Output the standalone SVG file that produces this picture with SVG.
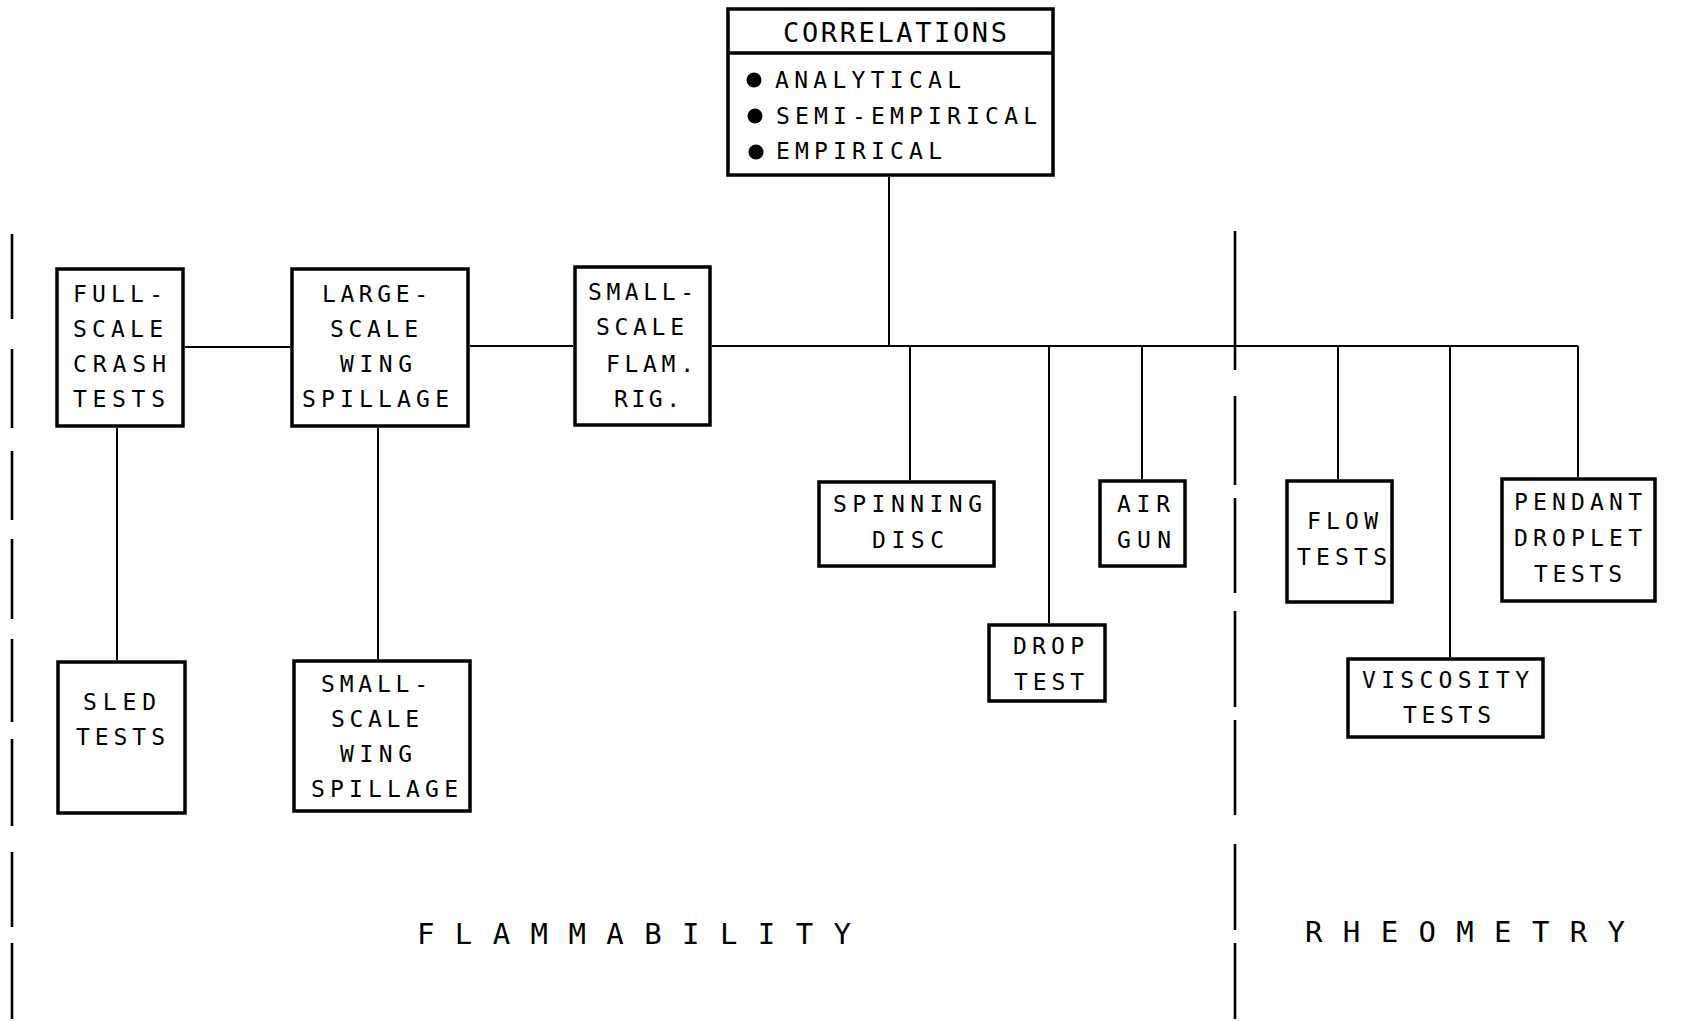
<svg xmlns="http://www.w3.org/2000/svg" width="1699" height="1021" viewBox="0 0 1699 1021">
<style>
.box{fill:#fff;stroke:#000;stroke-width:3.5}
.ln{stroke:#000;stroke-width:2;fill:none}
.dv{stroke:#000;stroke-width:2.6;fill:none}
text{font-family:"DejaVu Sans Mono","Liberation Mono",monospace;fill:#000;font-size:23px}
.c{text-anchor:middle}
.hd{font-size:27px}
.big{font-size:29px}
</style>
<rect width="1699" height="1021" fill="#fff"/>
<g id="dividers">
<path class="dv" d="M12 234V319M12 349V428M12 451V520M12 539V619M12 639V722M12 739V826M12 852V927M12 943V1019"/>
<path class="dv" d="M1235 231V370M1235 396V485M1235 498V593M1235 611V707M1235 720V815M1235 844V930M1235 943V1019"/>
</g>
<g id="connectors">
<path class="ln" d="M185 347H290M470 346H573M712 346H1578"/>
<path class="ln" d="M889 177V346"/>
<path class="ln" d="M910 346V480M1049 346V623M1142 346V479M1338 346V479M1450 346V657M1578 346V477"/>
<path class="ln" d="M117 428V660M378 428V659"/>
</g>
<g id="correlations">
<rect class="box" x="728" y="9" width="325" height="166"/>
<path class="box" d="M728 53H1053"/>
<text class="hd" x="783" y="42" textLength="224" lengthAdjust="spacing">CORRELATIONS</text>
<circle cx="754" cy="80" r="7.5"/>
<circle cx="755" cy="116" r="7.5"/>
<circle cx="756" cy="152" r="7.5"/>
<text x="775" y="88" textLength="186" lengthAdjust="spacing">ANALYTICAL</text>
<text x="776" y="124" textLength="261" lengthAdjust="spacing">SEMI-EMPIRICAL</text>
<text x="776" y="159" textLength="166" lengthAdjust="spacing">EMPIRICAL</text>
</g>
<g id="full-scale">
<rect class="box" x="57" y="269" width="126" height="157"/>
<text x="73" y="302" textLength="90" lengthAdjust="spacing">FULL-</text>
<text x="73" y="337" textLength="90" lengthAdjust="spacing">SCALE</text>
<text x="73" y="372" textLength="93" lengthAdjust="spacing">CRASH</text>
<text x="73" y="407" textLength="92" lengthAdjust="spacing">TESTS</text>
</g>
<g id="large-scale">
<rect class="box" x="292" y="269" width="176" height="157"/>
<text x="322" y="302" textLength="106" lengthAdjust="spacing">LARGE-</text>
<text x="330" y="337" textLength="88" lengthAdjust="spacing">SCALE</text>
<text x="340" y="372" textLength="72" lengthAdjust="spacing">WING</text>
<text x="302" y="407" textLength="147" lengthAdjust="spacing">SPILLAGE</text>
</g>
<g id="small-flam">
<rect class="box" x="575" y="267" width="135" height="158"/>
<text x="588" y="300" textLength="106" lengthAdjust="spacing">SMALL-</text>
<text x="596" y="335" textLength="88" lengthAdjust="spacing">SCALE</text>
<text x="606" y="372" textLength="88" lengthAdjust="spacing">FLAM.</text>
<text x="614" y="407" textLength="66" lengthAdjust="spacing">RIG.</text>
</g>
<g id="sled">
<rect class="box" x="58" y="662" width="127" height="151"/>
<text x="83" y="710" textLength="73" lengthAdjust="spacing">SLED</text>
<text x="76" y="745" textLength="89" lengthAdjust="spacing">TESTS</text>
</g>
<g id="small-wing">
<rect class="box" x="294" y="661" width="176" height="150"/>
<text x="321" y="692" textLength="107" lengthAdjust="spacing">SMALL-</text>
<text x="331" y="727" textLength="88" lengthAdjust="spacing">SCALE</text>
<text x="340" y="762" textLength="72" lengthAdjust="spacing">WING</text>
<text x="311" y="797" textLength="147" lengthAdjust="spacing">SPILLAGE</text>
</g>
<g id="spinning">
<rect class="box" x="819" y="482" width="175" height="84"/>
<text x="833" y="512" textLength="149" lengthAdjust="spacing">SPINNING</text>
<text x="872" y="548" textLength="72" lengthAdjust="spacing">DISC</text>
</g>
<g id="drop">
<rect class="box" x="989" y="625" width="116" height="76"/>
<text x="1013" y="654" textLength="71" lengthAdjust="spacing">DROP</text>
<text x="1014" y="690" textLength="70" lengthAdjust="spacing">TEST</text>
</g>
<g id="airgun">
<rect class="box" x="1100" y="481" width="85" height="85"/>
<text x="1117" y="512" textLength="53" lengthAdjust="spacing">AIR</text>
<text x="1117" y="548" textLength="54" lengthAdjust="spacing">GUN</text>
</g>
<g id="flow">
<rect class="box" x="1287" y="481" width="105" height="121"/>
<text x="1307" y="529" textLength="71" lengthAdjust="spacing">FLOW</text>
<text x="1297" y="565" textLength="90" lengthAdjust="spacing">TESTS</text>
</g>
<g id="viscosity">
<rect class="box" x="1348" y="659" width="195" height="78"/>
<text x="1362" y="688" textLength="167" lengthAdjust="spacing">VISCOSITY</text>
<text x="1403" y="723" textLength="88" lengthAdjust="spacing">TESTS</text>
</g>
<g id="pendant">
<rect class="box" x="1502" y="479" width="153" height="122"/>
<text x="1514" y="510" textLength="128" lengthAdjust="spacing">PENDANT</text>
<text x="1514" y="546" textLength="128" lengthAdjust="spacing">DROPLET</text>
<text x="1534" y="582" textLength="88" lengthAdjust="spacing">TESTS</text>
</g>
<g id="labels">
<text class="big" x="417" y="944" textLength="434" lengthAdjust="spacing">FLAMMABILITY</text>
<text class="big" x="1305" y="942" textLength="320" lengthAdjust="spacing">RHEOMETRY</text>
</g>
</svg>
